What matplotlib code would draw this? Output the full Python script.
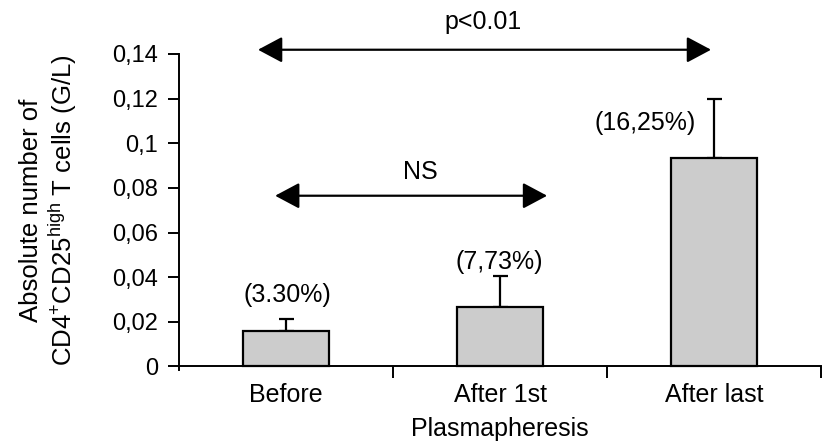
import matplotlib
matplotlib.use("Agg")
import matplotlib.pyplot as plt

plt.rcParams['font.family'] = ['Liberation Sans', 'DejaVu Sans']
plt.rcParams['mathtext.fontset'] = 'custom'
plt.rcParams['mathtext.rm'] = 'Liberation Sans'
plt.rcParams['mathtext.it'] = 'Liberation Sans'

categories = ["Before", "After 1st", "After last"]
values = [0.016, 0.0267, 0.0935]
errors = [0.0053, 0.0139, 0.0265]
pct_labels = ["(3.30%)", "(7,73%)", "(16,25%)"]
yticks = [0, 0.02, 0.04, 0.06, 0.08, 0.1, 0.12, 0.14]
ytick_labels = ["0", "0,02", "0,04", "0,06", "0,08", "0,1", "0,12", "0,14"]

FS = 18
TFS = 17

fig = plt.figure(figsize=(8.3, 4.45), dpi=100)
ax = fig.add_axes([0.2157, 0.1689, 0.7735, 0.7098])

x = list(range(len(categories)))
ax.bar(x, values, width=0.4, color="#cccccc", edgecolor="black", linewidth=1.6, zorder=2)
ax.errorbar(x, values, yerr=[[0]*len(values), errors], fmt="none", ecolor="black",
            elinewidth=1.6, capsize=5.4, capthick=1.6, zorder=1)

ax.set_xlim(-0.5, 2.5)
ax.set_ylim(-0.0015, 0.14)
for s in ["top", "right"]:
    ax.spines[s].set_visible(False)
ax.spines["bottom"].set_position(("data", 0))
ax.spines["left"].set_linewidth(1.4)
ax.spines["bottom"].set_linewidth(1.4)

ax.set_yticks(yticks)
ax.set_yticklabels(ytick_labels, fontsize=TFS)
ax.tick_params(axis="y", direction="out", length=8, width=1.4, pad=7)

ax.set_xticks([0.5, 1.5, 2.5])
ax.set_xticklabels(["", "", ""])
ax.tick_params(axis="x", which="major", direction="out", length=8.5, width=1.4)
ax.set_xticks(x, minor=True)
ax.set_xticklabels(categories, minor=True, fontsize=FS)
ax.tick_params(axis="x", which="minor", length=0, pad=12)

ax.set_xlabel("Plasmapheresis", fontsize=FS, labelpad=7)

ax.text(-0.2305, 0.506, "Absolute number of", rotation=90, ha="center", va="center",
        fontsize=18.5, transform=ax.transAxes)
ax.text(-0.181, 0.506, "CD4$^{+}$CD25$^{\\mathrm{high}}$ T cells (G/L)", rotation=90,
        ha="center", va="center", fontsize=18.5, transform=ax.transAxes)

label_pos = [(0.005, 0.0321), (0.995, 0.0469), (1.68, 0.1092)]
for (lx, ly), t in zip(label_pos, pct_labels):
    ax.text(lx, ly, t, ha="center", va="center", fontsize=FS)

arrowprops = dict(arrowstyle="<|-|>,head_length=1.5,head_width=0.8", color="black",
                  lw=1.6, shrinkA=0, shrinkB=0)
ax.annotate("", xy=(-0.051, 0.0765), xytext=(1.22, 0.0765), arrowprops=arrowprops,
            annotation_clip=False)
ax.text(0.63, 0.0872, "NS", ha="center", va="center", fontsize=FS)
ax.annotate("", xy=(-0.131, 0.1419), xytext=(1.986, 0.1419), arrowprops=arrowprops,
            annotation_clip=False)
ax.text(0.92, 0.1545, "p<0.01", ha="center", va="center", fontsize=FS, clip_on=False)

fig.savefig("out.png", dpi=100)
